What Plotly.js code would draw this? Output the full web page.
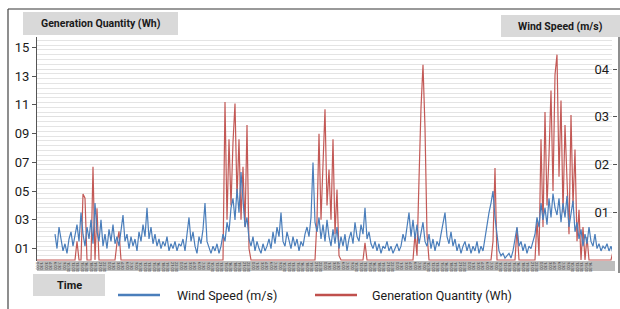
<!DOCTYPE html>
<html><head><meta charset="utf-8">
<script src="https://cdn.plot.ly/plotly-3.0.1.min.js"></script>
<style>html,body{margin:0;padding:0;background:#fff;} #chart{width:620px;height:309px;}</style>
</head><body><div id="chart"></div>
<script>
// Wind speed (m/s), right axis
const windSpeed = [
 null,null,null,null,null,null,null,null,null,
 0.55,0.25,0.7,0.4,0.2,0.35,0.15,0.45,0.6,0.3,
 0.5,0.75,0.4,1.0,0.55,0.3,0.7,0.45,0.85,0.35,
 1.2,0.6,0.4,0.85,0.3,0.55,0.25,0.65,0.4,0.75,
 0.35,0.5,0.3,0.6,0.95,0.4,0.55,0.25,0.5,0.3,
 0.45,0.2,0.6,0.4,0.75,0.5,1.1,0.45,0.7,0.35,
 0.55,0.3,0.45,0.25,0.4,0.3,0.5,0.2,0.35,0.25,
 0.4,0.2,0.35,0.3,0.45,0.2,0.55,0.9,0.4,0.6,
 0.3,0.15,0.5,0.35,0.65,1.2,0.4,0.25,0.15,0.3,
 0.2,0.35,0.15,0.3,0.55,0.4,0.8,0.6,1.1,1.3,
 0.85,1.5,1.0,1.85,1.2,0.7,0.9,0.45,0.3,0.5,
 0.2,0.4,0.25,0.15,0.35,0.2,0.3,0.45,0.25,0.6,
 0.35,0.7,0.5,1.0,0.4,0.3,0.6,0.45,0.25,0.5,
 0.3,0.45,0.2,0.4,0.3,0.55,0.7,0.5,0.9,2.05,
 0.8,0.6,0.9,0.45,0.75,0.4,0.85,0.5,0.3,0.65,
 0.35,0.7,0.25,0.5,0.3,0.55,0.2,0.45,0.6,0.35,
 0.8,0.5,0.4,0.75,0.55,1.1,0.45,0.6,0.35,0.25,
 0.4,0.2,0.35,0.15,0.3,0.25,0.4,0.2,0.3,0.15,
 0.25,0.35,0.2,0.3,0.55,0.4,0.7,1.0,0.5,0.85,
 0.45,0.75,0.35,0.6,0.8,0.4,0.3,0.55,0.25,0.45,
 0.2,0.4,0.3,0.55,0.75,1.0,0.5,0.35,0.6,0.3,
 0.45,0.2,0.35,0.15,0.3,0.4,0.2,0.35,0.15,0.3,
 0.2,0.4,0.15,0.3,0.2,0.5,0.7,1.0,1.2,1.45,
 0.9,0.5,0.2,0.1,0.15,0.05,0.1,0.15,0.05,0.2,
 0.45,0.7,0.3,0.4,0.2,0.35,0.15,0.3,0.25,0.4,
 0.55,0.9,0.7,1.2,0.85,1.1,0.75,1.3,0.9,1.4,
 1.1,0.95,1.3,0.8,1.2,0.9,1.35,0.7,1.0,1.25,
 0.6,0.8,0.45,0.65,0.3,0.55,0.35,0.7,0.4,0.3,
 0.55,0.25,0.35,0.2,0.3,0.25,0.35,0.2,0.3,0.15
];
// Generation quantity (Wh), left axis
const generation = [
 0.2,0.2,0.2,0.2,0.2,0.2,0.2,0.2,0.2,0.2,
 0.2,0.2,0.2,0.2,0.2,0.2,0.2,0.2,0.2,0.2,
 1.5,0.2,0.2,4.8,4.5,0.2,0.2,0.2,6.7,0.2,
 3.8,0.2,0.2,0.2,0.2,0.2,0.2,0.2,0.2,0.2,
 1.4,2.2,0.2,0.2,0.2,0.2,0.2,0.2,0.2,0.2,
 0.2,0.2,0.2,0.2,0.2,0.2,0.2,0.2,0.2,0.2,
 0.2,0.2,0.2,0.2,0.2,0.2,0.2,0.2,0.2,0.2,
 0.2,0.2,0.2,0.2,0.2,0.2,0.2,0.2,0.2,0.2,
 0.2,0.2,0.2,0.2,0.2,0.2,0.2,0.2,0.2,0.2,
 0.2,0.2,0.2,0.2,11.2,3.0,8.6,4.0,8.4,11.1,
 4.5,8.6,3.0,6.7,2.5,9.6,1.0,0.2,0.2,0.2,
 0.2,0.2,0.2,0.2,0.2,0.2,0.2,0.2,0.2,0.2,
 0.2,0.2,0.2,0.2,0.2,0.2,0.2,0.2,0.2,0.2,
 0.2,0.2,0.2,0.2,0.2,0.2,0.2,0.2,0.2,0.2,
 3.0,9.0,3.0,7.0,10.7,4.0,6.5,3.0,8.6,2.0,
 5.1,0.5,0.2,0.2,0.2,0.2,0.2,0.2,0.2,0.2,
 0.2,0.2,0.2,0.2,1.4,0.2,0.2,0.2,0.2,0.2,
 0.2,0.2,0.2,0.2,0.2,0.2,0.2,0.2,0.2,0.2,
 0.2,0.2,0.2,0.2,0.2,0.2,0.2,0.2,0.2,2.0,
 0.5,5.8,10.8,13.8,9.4,2.0,0.2,0.2,0.2,0.2,
 0.2,0.2,0.2,0.2,0.2,0.2,0.2,0.2,0.2,0.2,
 0.2,0.2,0.2,0.2,0.2,0.2,0.2,0.2,0.2,0.2,
 0.2,0.2,0.2,0.2,0.2,0.2,0.2,0.2,1.5,6.6,
 0.2,0.2,0.2,0.2,0.2,0.2,0.2,0.2,0.2,0.2,
 2.4,0.2,0.2,0.2,0.2,0.2,0.2,0.2,0.2,0.2,
 3.0,0.5,8.6,2.5,10.5,4.0,7.5,12.0,5.0,13.1,
 14.5,6.0,11.3,3.5,9.6,5.0,2.0,10.3,4.0,7.9,
 1.5,3.7,0.2,2.5,0.2,1.8,0.2,0.2,0.2,0.2,
 0.2,0.2,0.2,0.2,0.2,0.2,0.2,0.2,0.8
];
const leftTickVals = [1,3,5,7,9,11,13,15];
const leftTickText = ["01","03","05","07","09","11","13","15"];
const rightTickVals = [1,2,3,4];
const rightTickText = ["01","02","03","04"];
const seriesNames = ["Wind Speed (m/s)", "Generation Quantity (Wh)"];
const timeIndex = windSpeed.map((_, i) => i);
// time tick labels along the bottom band
const timeTickVals = [];
const timeTickText = [];
for (let k = 0; k * 2.25 <= 288; k++) {
  const mins = k * 90;
  const h = Math.floor(mins / 60) % 24, m = mins % 60;
  timeTickVals.push(k * 2.25);
  timeTickText.push(h + ":" + (m < 10 ? "0" + m : m));
}

const L = 37, R = 612, T = 37, B = 261, W = 620, H = 309;
const px = v => (v - L) / (R - L);
const py = v => (B - v) / (B - T);
const FONT = "Roboto, 'Noto Sans', sans-serif";
const BLUE = "#4a7ebb", RED = "#c0504d";

function rect(x0, y0, x1, y1, fill, layer) {
  return {type: 'rect', xref: 'paper', yref: 'paper', x0: px(x0), x1: px(x1), y0: py(y1), y1: py(y0),
          fillcolor: fill, line: {width: 0}, layer: layer || 'below'};
}
function line(x0, y0, x1, y1, color, width) {
  return {type: 'line', xref: 'paper', yref: 'paper', x0: px(x0), x1: px(x1), y0: py(y0), y1: py(y1),
          line: {color: color, width: width}, layer: 'above'};
}
function label(x, y, text, size, weight) {
  return {xref: 'paper', yref: 'paper', x: px(x), y: py(y), text: text, showarrow: false,
          xanchor: 'left', yanchor: 'middle', font: {family: FONT, size: size, color: '#1a1a1a', weight: weight || 'normal'}};
}

const traces = [
  {x: timeIndex, y: windSpeed, type: 'scatter', mode: 'lines', name: seriesNames[0], yaxis: 'y2',
   line: {color: BLUE, width: 1.2}, connectgaps: false},
  {x: timeIndex, y: generation, type: 'scatter', mode: 'lines', name: seriesNames[1], yaxis: 'y',
   line: {color: RED, width: 1.2}, opacity: 0.95}
];

const layout = {
  width: W, height: H,
  margin: {l: L, r: W - R, t: T, b: H - B, pad: 0},
  paper_bgcolor: '#fff', plot_bgcolor: 'rgba(0,0,0,0)',
  showlegend: false,
  xaxis: {range: [0, 287.5], showgrid: false, zeroline: false, showline: false,
          tickmode: 'array', tickvals: timeTickVals, ticktext: timeTickText,
          tickangle: 90, ticks: '', tickfont: {family: FONT, size: 4, color: '#333'}},
  yaxis: {range: [0.13, 15.73], tickmode: 'array', tickvals: leftTickVals, ticktext: leftTickText,
          showgrid: false, zeroline: false, showline: true, linecolor: '#555', linewidth: 1,
          ticks: 'outside', ticklen: 4, tickcolor: '#555',
          tickfont: {family: FONT, size: 13, color: '#1a1a1a'}},
  yaxis2: {range: [-0.01, 4.67], overlaying: 'y', side: 'right', anchor: 'x',
           tickmode: 'array', tickvals: rightTickVals, ticktext: rightTickText,
           ticklabelposition: 'inside', ticks: 'outside', ticklen: 4, tickcolor: '#555',
           showgrid: true, gridcolor: '#e0e0e0', gridwidth: 1, zeroline: false, showline: false,
           minor: {tickmode: 'linear', tick0: 0, dtick: 0.1, showgrid: true, gridcolor: '#e4e4e4', gridwidth: 1, ticks: ''},
           tickfont: {family: FONT, size: 13, color: '#1a1a1a'}},
  shapes: [
    rect(37, 261, 615, 271, '#bdbdbd', 'below'),
    rect(23, 12, 178, 35, '#d9d9d9', 'below'),
    rect(501, 15, 620, 37, '#d9d9d9', 'below'),
    rect(33, 274, 105, 296, '#d9d9d9', 'below'),
    line(8, 9, 620, 9, '#777', 1.5),
    line(8, 9, 8, 309, '#444', 1.2),
    line(619, 37, 619, 273, '#444', 1.2),
    line(118, 295, 160, 295, BLUE, 2.5),
    line(315, 295, 357, 295, RED, 2.5)
  ],
  annotations: [
    Object.assign(label(100.5, 23.5, 'Generation Quantity (Wh)', 10.5, 'bold'), {xanchor: 'center'}),
    Object.assign(label(560, 26, 'Wind Speed (m/s)', 10.5, 'bold'), {xanchor: 'center'}),
    Object.assign(label(69, 285, 'Time', 11, 'bold'), {xanchor: 'center'}),
    label(175, 295, seriesNames[0], 12.5),
    label(370, 295, seriesNames[1], 12.5)
  ]
};

Plotly.newPlot('chart', traces, layout, {staticPlot: true, displayModeBar: false});
</script>
</body></html>
